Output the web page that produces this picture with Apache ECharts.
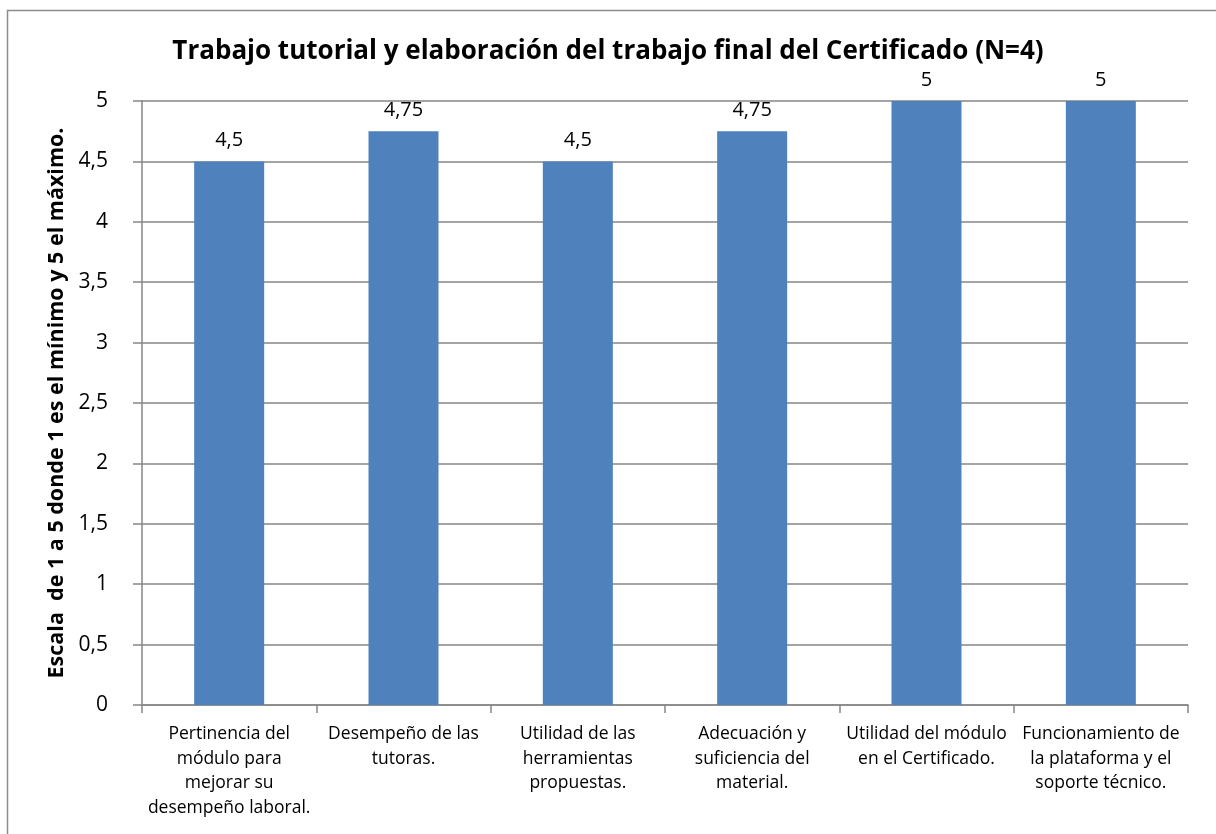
<html>
<head>
<meta charset="utf-8">
<title>Trabajo tutorial</title>
<script src="https://cdn.jsdelivr.net/npm/echarts@6/dist/echarts.min.js"></script>
<style>
  body { margin: 0; background: #fff; }
  #main { width: 1216px; height: 834px; }
</style>
</head>
<body>
<div id="main"></div>
<script type="text/javascript">
// categorias y valores
var categories = [
    'Pertinencia del\nmódulo para\nmejorar su\ndesempeño laboral.',
    'Desempeño de las\ntutoras.',
    'Utilidad de las\nherramientas\npropuestas.',
    'Adecuación y\nsuficiencia del\nmaterial.',
    'Utilidad del módulo\nen el Certificado.',
    'Funcionamiento de\nla plataforma y el\nsoporte técnico.'
];
var values = [4.5, 4.75, 4.5, 4.75, 5, 5];

function coma(v) {
    return String(v).replace('.', ',');
}

var myChart = echarts.init(document.getElementById('main'));

var option = {
    backgroundColor: '#fff',
    animation: false,
    textStyle: { fontFamily: 'Open Sans, sans-serif' },
    graphic: [{
        type: 'rect',
        shape: { x: 7.5, y: 10.5, width: 1220, height: 840 },
        style: { fill: 'none', stroke: '#8c8c8c', lineWidth: 1.5 },
        silent: true
    }],
    title: {
        text: 'Trabajo tutorial y elaboración del trabajo final del Certificado (N=4)',
        left: 'center',
        top: 34,
        textStyle: { fontSize: 26, fontWeight: 'bold', color: '#000', fontFamily: 'Open Sans, sans-serif' }
    },
    grid: { left: 142, right: 28, top: 101, bottom: 129 },
    xAxis: {
        type: 'category',
        data: categories,
        axisLine: { lineStyle: { color: '#868686', width: 1.5 } },
        axisTick: { show: true, length: 8, alignWithLabel: false, lineStyle: { color: '#868686', width: 1.5 } },
        axisLabel: { interval: 0, color: '#000', fontSize: 17.5, lineHeight: 24.5, margin: 17 }
    },
    yAxis: {
        type: 'value',
        min: 0,
        max: 5,
        interval: 0.5,
        name: 'Escala  de 1 a 5 donde 1 es el mínimo y 5 el máximo.',
        nameLocation: 'middle',
        nameGap: 70,
        nameRotate: 90,
        nameTextStyle: { fontSize: 21.5, fontWeight: 'bold', color: '#000' },
        axisLine: { show: true, lineStyle: { color: '#868686', width: 1.5 } },
        axisTick: { show: true, length: 9, lineStyle: { color: '#868686', width: 1.5 } },
        splitLine: { lineStyle: { color: '#868686', width: 1.5 } },
        axisLabel: { color: '#000', fontSize: 21, margin: 34, formatter: coma }
    },
    series: [{
        type: 'bar',
        data: values,
        barWidth: 70,
        itemStyle: { color: '#4f81bd' },
        label: {
            show: true,
            position: 'top',
            distance: 11,
            color: '#000',
            fontSize: 20,
            formatter: function (p) { return coma(p.value); }
        }
    }]
};
myChart.setOption(option);
</script>
</body>
</html>
